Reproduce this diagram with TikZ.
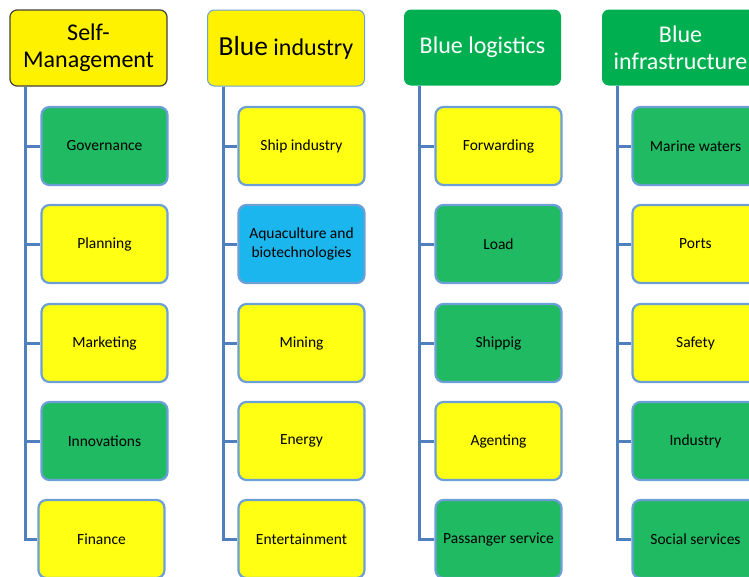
\documentclass[tikz,border=0pt]{standalone}
\usepackage{fontspec}
\setmainfont{Carlito}
\definecolor{cellyellow}{HTML}{FFFF14}
\definecolor{cellgreen}{HTML}{1FBA62}
\definecolor{headgreen}{HTML}{00B050}
\definecolor{cellblue}{HTML}{1CB6EE}
\definecolor{cellrim}{HTML}{6C9FD6}
\definecolor{treeline}{HTML}{4F7FBC}
\tikzset{
  head/.style={rounded corners=7pt, minimum width=157pt, minimum height=76pt,
    align=center, font=\fontsize{24}{27}\selectfont, inner sep=0pt},
  item/.style={rounded corners=8pt, draw=cellrim, line width=2.2pt,
    minimum width=126pt, minimum height=78pt, align=center,
    font=\fontsize{15.5}{18.5}\selectfont, inner sep=0pt},
  yel/.style={item, fill=cellyellow},
  grn/.style={item, fill=cellgreen},
  sky/.style={item, fill=cellblue},
  conn/.style={draw=treeline, line width=3pt}
}
\begin{document}
\begin{tikzpicture}[x=1pt, y=-1pt]
\useasboundingbox (0,0) rectangle (749,576);
\clip (0,0) rectangle (749,576);
% headers
\node[head, fill=yellow, draw=black!75, line width=1.2pt] (selfman) at (88.5,48) {Self-\\Management};
\node[head, fill=yellow, draw=cellrim, line width=1pt] (industry) at (286,48) {{\fontsize{27.5}{27.5}\selectfont Blue} industry};
\node[head, fill=headgreen, text=white] (logistics) at (482.5,47.5) {Blue logistics};
\node[head, fill=headgreen, text=white] (infra) at (680.5,47.5) {Blue\\infrastructure};
% column 1
\node[grn] (governance) at (104.5,146) {Governance};
\node[yel] (planning) at (104.5,244) {Planning};
\node[yel] (marketing) at (104.5,343) {Marketing};
\node[grn] (innovations) at (104.5,441) {Innovations};
\node[yel] (finance) at (101.5,539) {Finance};
% column 2
\node[yel] (ship) at (301.5,146) {Ship industry};
\node[sky] (aqua) at (301.5,244) {Aquaculture and\\biotechnologies};
\node[yel] (mining) at (301.5,343) {Mining};
\node[yel] (energy) at (301.5,441) {Energy};
\node[yel] (enter) at (301.5,539) {Entertainment};
% column 3
\node[yel] (forward) at (498.5,146) {Forwarding};
\node[grn] (load) at (498.5,244) {Load};
\node[grn] (shippig) at (498.5,343) {Shippig};
\node[yel] (agent) at (498.5,441) {Agenting};
\node[grn] (passenger) at (498.5,539) {Passanger service};
% column 4
\node[grn] (marine) at (695.5,146) {Marine waters};
\node[yel] (ports) at (695.5,244) {Ports};
\node[yel] (safety) at (695.5,343) {Safety};
\node[grn] (indus) at (695.5,441) {Industry};
\node[grn] (social) at (695.5,539) {Social services};
% connectors
\foreach \h/\a/\b/\c/\d/\e in {selfman/governance/planning/marketing/innovations/finance,
  industry/ship/aqua/mining/energy/enter,
  logistics/forward/load/shippig/agent/passenger,
  infra/marine/ports/safety/indus/social}{
  \foreach \k in {\a,\b,\c,\d}
    \draw[conn] ([xshift=16pt]\h.south west) |- (\k.west);
  \draw[conn] ([xshift=16pt]\h.south west) |- (\e.west);
}
\end{tikzpicture}
\end{document}
